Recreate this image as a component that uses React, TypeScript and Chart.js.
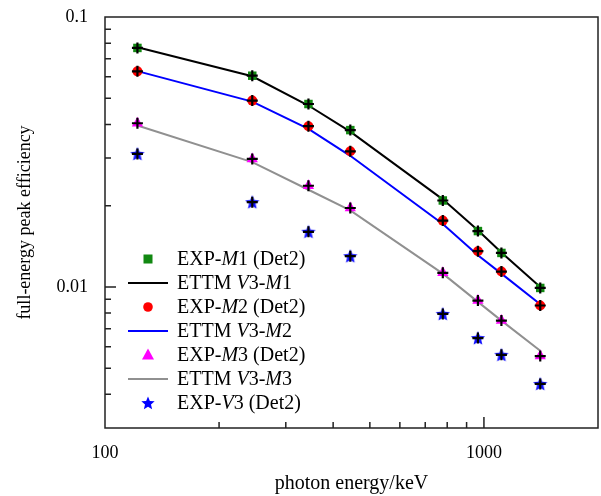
import React, { useEffect, useRef } from "react";
import { Chart, registerables } from "chart.js";

Chart.register(...registerables);

const energies = [121.78, 244.7, 344.28, 443.96, 778.9, 964.08, 1112.08, 1408.01];
const expM1 = [0.0768, 0.0606, 0.0476, 0.0381, 0.0209, 0.0161, 0.01336, 0.00991];
const ettmM1 = [0.0772, 0.0603, 0.047, 0.0376, 0.0211, 0.0162, 0.0134, 0.01];
const expM2 = [0.0629, 0.049, 0.0394, 0.0318, 0.0176, 0.01356, 0.0114, 0.00853];
const ettmM2 = [0.063, 0.0486, 0.0385, 0.0306, 0.0171, 0.0131, 0.0112, 0.00862];
const expM3 = [0.0404, 0.0298, 0.0237, 0.0196, 0.01127, 0.0089, 0.0075, 0.00554];
const ettmM3 = [0.0396, 0.029, 0.0229, 0.0192, 0.0112, 0.0088, 0.0075, 0.0058];
const expV3 = [0.0311, 0.0206, 0.016, 0.013, 0.00794, 0.00646, 0.0056, 0.00437];

const xTicks = [100, 200, 300, 400, 500, 600, 700, 800, 900, 1000];
const xMajor = [100, 1000];
const yTicks = [0.004, 0.005, 0.006, 0.007, 0.008, 0.009, 0.01, 0.02, 0.03, 0.04, 0.05, 0.06, 0.07, 0.08, 0.09, 0.1];
const yMajor = [0.01, 0.1];

type Seg = { t: string; i?: boolean };
const legendItems: { kind: string; color: string; segs: Seg[] }[] = [
  { kind: "rect", color: "#118811", segs: [{ t: "EXP-" }, { t: "M", i: true }, { t: "1 (Det2)" }] },
  { kind: "line", color: "#000000", segs: [{ t: "ETTM " }, { t: "V", i: true }, { t: "3-" }, { t: "M", i: true }, { t: "1" }] },
  { kind: "circle", color: "#ff0000", segs: [{ t: "EXP-" }, { t: "M", i: true }, { t: "2 (Det2)" }] },
  { kind: "line", color: "#0000ff", segs: [{ t: "ETTM " }, { t: "V", i: true }, { t: "3-" }, { t: "M", i: true }, { t: "2" }] },
  { kind: "triangle", color: "#ff00ff", segs: [{ t: "EXP-" }, { t: "M", i: true }, { t: "3 (Det2)" }] },
  { kind: "line", color: "#909090", segs: [{ t: "ETTM " }, { t: "V", i: true }, { t: "3-" }, { t: "M", i: true }, { t: "3" }] },
  { kind: "star", color: "#0000ff", segs: [{ t: "EXP-" }, { t: "V", i: true }, { t: "3 (Det2)" }] },
];

const FONT = "'Liberation Serif', 'Times New Roman', serif";

function starPath(ctx: CanvasRenderingContext2D, cx: number, cy: number, R: number) {
  const r = R * 0.45;
  ctx.beginPath();
  for (let k = 0; k < 10; k++) {
    const a = -Math.PI / 2 + (k * Math.PI) / 5;
    const rr = k % 2 === 0 ? R : r;
    const px = cx + rr * Math.cos(a);
    const py = cy + rr * Math.sin(a);
    if (k === 0) ctx.moveTo(px, py);
    else ctx.lineTo(px, py);
  }
  ctx.closePath();
}

function makeStar(color: string) {
  const c = document.createElement("canvas");
  c.width = 16;
  c.height = 16;
  const g = c.getContext("2d")!;
  g.fillStyle = color;
  starPath(g, 8, 8.5, 7.5);
  g.fill();
  return c;
}

const ticksPlugin = {
  id: "frameTicks",
  afterDatasetsDraw(chart: any) {
    const ctx: CanvasRenderingContext2D = chart.ctx;
    const { left, right, top, bottom } = chart.chartArea;
    const xs = chart.scales.x;
    const ys = chart.scales.y;
    ctx.save();
    ctx.strokeStyle = "#222";
    ctx.lineWidth = 1.5;
    ctx.beginPath();
    for (const v of xTicks) {
      const px = xs.getPixelForValue(v);
      if (px <= left + 1 || px >= right - 1) continue;
      const len = xMajor.includes(v) ? 11 : 6;
      ctx.moveTo(px, bottom);
      ctx.lineTo(px, bottom - len);
    }
    for (const v of yTicks) {
      const py = ys.getPixelForValue(v);
      if (py <= top + 1 || py >= bottom - 1) continue;
      const len = yMajor.includes(v) ? 11 : 6;
      ctx.moveTo(left, py);
      ctx.lineTo(left + len, py);
    }
    ctx.stroke();
    ctx.strokeRect(left, top, right - left, bottom - top);

    // legend
    const symX = 148;
    const textX = 177;
    const y0 = 259;
    const step = 24;
    legendItems.forEach((it, idx) => {
      const cy = y0 + idx * step;
      ctx.fillStyle = it.color;
      ctx.strokeStyle = it.color;
      if (it.kind === "line") {
        ctx.lineWidth = 2;
        ctx.beginPath();
        ctx.moveTo(128, cy);
        ctx.lineTo(168, cy);
        ctx.stroke();
      } else if (it.kind === "rect") {
        ctx.fillRect(symX - 4.5, cy - 4.5, 9, 9);
      } else if (it.kind === "circle") {
        ctx.beginPath();
        ctx.arc(symX, cy, 4.8, 0, Math.PI * 2);
        ctx.fill();
      } else if (it.kind === "triangle") {
        ctx.beginPath();
        ctx.moveTo(symX, cy - 6.5);
        ctx.lineTo(symX + 6, cy + 4.5);
        ctx.lineTo(symX - 6, cy + 4.5);
        ctx.closePath();
        ctx.fill();
      } else if (it.kind === "star") {
        starPath(ctx, symX, cy + 0.5, 7);
        ctx.fill();
      }
      ctx.fillStyle = "#000";
      ctx.textBaseline = "middle";
      ctx.textAlign = "left";
      let x = textX;
      for (const s of it.segs) {
        ctx.font = (s.i ? "italic " : "") + "20px " + FONT;
        ctx.fillText(s.t, x, cy + 1);
        x += ctx.measureText(s.t).width;
      }
    });
    ctx.restore();
  },
};

function toXY(ys: number[]) {
  return energies.map((e, i) => ({ x: e, y: ys[i] }));
}

export default function App() {
  const ref = useRef<HTMLCanvasElement>(null);
  useEffect(() => {
    if (!ref.current) return;
    const star = makeStar("#1010ff");
    const marker = (label: string, data: number[], style: any, color: string, radius: number) => ({
      type: "scatter" as const,
      label,
      data: toXY(data),
      showLine: false,
      pointStyle: style,
      pointRadius: radius,
      pointBackgroundColor: color,
      pointBorderColor: color,
      pointBorderWidth: 0,
      order: 2,
    });
    const line = (label: string, data: number[], color: string) => ({
      type: "line" as const,
      label,
      data: toXY(data),
      borderColor: color,
      borderWidth: 2,
      pointRadius: 0,
      tension: 0,
      fill: false,
      order: 3,
    });
    const cross = (data: number[]) => ({
      type: "scatter" as const,
      label: "_err",
      data: toXY(data),
      showLine: false,
      pointStyle: "cross",
      pointRadius: 5.5,
      pointBorderColor: "#000",
      pointBorderWidth: 2.2,
      order: 1,
    });
    const chart = new Chart(ref.current, {
      type: "scatter",
      data: {
        datasets: [
          line("ETTM V3-M1", ettmM1, "#000000"),
          line("ETTM V3-M2", ettmM2, "#0000ff"),
          line("ETTM V3-M3", ettmM3, "#909090"),
          marker("EXP-M1 (Det2)", expM1, "rect", "#118811", 6),
          marker("EXP-M2 (Det2)", expM2, "circle", "#ff0000", 5),
          marker("EXP-M3 (Det2)", expM3, "triangle", "#ff00ff", 6.5),
          marker("EXP-V3 (Det2)", expV3, star, "#1010ff", 8),
          cross(expM1),
          cross(expM2),
          cross(expM3),
          cross(expV3),
        ] as any,
      },
      options: {
        responsive: false,
        animation: false,
        layout: { autoPadding: false, padding: { top: 17, right: 3, left: 0, bottom: 0 } },
        plugins: { legend: { display: false }, tooltip: { enabled: false } },
        scales: {
          x: {
            type: "logarithmic",
            min: 100,
            max: 2000,
            afterFit: (s: any) => {
              s.height = 68;
              s.paddingLeft = 0;
              s.paddingRight = 0;
            },
            afterBuildTicks: (s: any) => {
              s.ticks = xTicks.map((v) => ({ value: v, major: xMajor.includes(v) }));
            },
            grid: { display: false, drawTicks: false },
            border: { display: false },
            ticks: {
              autoSkip: false,
              maxRotation: 0,
              padding: 14,
              color: "#000",
              font: { family: FONT, size: 18 },
              callback: (v: any) => (xMajor.includes(Number(v)) ? String(v) : null),
            },
            title: {
              display: true,
              text: "photon energy/keV",
              color: "#000",
              font: { family: FONT, size: 20 },
              padding: { top: 0, bottom: 0 },
            },
          },
          y: {
            type: "logarithmic",
            min: 0.003,
            max: 0.1,
            afterFit: (s: any) => {
              s.width = 105;
              s.paddingTop = 0;
              s.paddingBottom = 0;
            },
            afterBuildTicks: (s: any) => {
              s.ticks = yTicks.map((v) => ({ value: v, major: yMajor.includes(v) }));
            },
            grid: { display: false, drawTicks: false },
            border: { display: false },
            ticks: {
              autoSkip: false,
              padding: 17,
              color: "#000",
              font: { family: FONT, size: 18 },
              callback: (v: any) => (yMajor.includes(Number(v)) ? String(v) : null),
            },
            title: {
              display: true,
              text: "full-energy peak efficiency",
              color: "#000",
              font: { family: FONT, size: 18 },
              padding: { top: 14, bottom: 0 },
            },
          },
        },
      },
      plugins: [ticksPlugin],
    } as any);
    return () => chart.destroy();
  }, []);
  return (
    <div style={{ position: "absolute", left: 0, top: 0, width: 601, height: 496, background: "#fff" }}>
      <canvas ref={ref} width={601} height={496} style={{ width: 601, height: 496, display: "block" }} />
    </div>
  );
}
